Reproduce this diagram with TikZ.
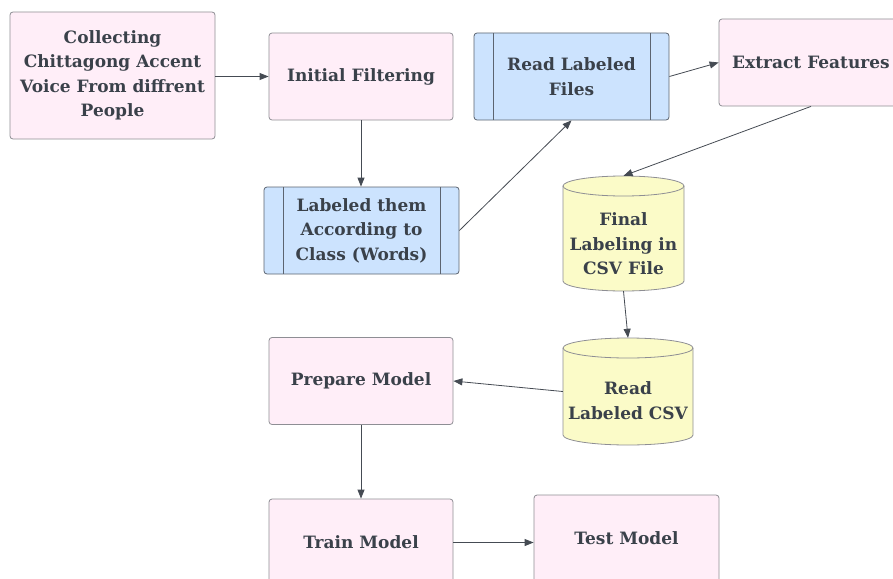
\documentclass[tikz,border=0pt]{standalone}
\usepackage{fontspec}
\setmainfont{DejaVu Serif}
\usetikzlibrary{arrows.meta}
\definecolor{pinkfill}{HTML}{FFEEF8}
\definecolor{bluefill}{HTML}{CCE3FE}
\definecolor{yellowfill}{HTML}{FBFBC8}
\definecolor{bdr}{HTML}{8E8E94}
\definecolor{bluebdr}{HTML}{5C6470}
\definecolor{txt}{HTML}{3A414A}
\definecolor{arr}{HTML}{454B53}
\tikzset{
  boxbase/.style={rectangle, rounded corners=3pt, line width=0.8pt, text=txt,
    font=\bfseries\fontsize{17}{24.5}\selectfont, align=center,
    minimum width=184pt, minimum height=87pt, inner sep=2pt},
  procbox/.style={boxbase, draw=bdr, fill=pinkfill},
  subbox/.style={boxbase, draw=bluebdr, fill=bluefill, minimum width=195pt,
    path picture={
      \draw[bluebdr, line width=0.8pt]
        ([xshift=19pt]path picture bounding box.north west) -- ([xshift=19pt]path picture bounding box.south west)
        ([xshift=-19pt]path picture bounding box.north east) -- ([xshift=-19pt]path picture bounding box.south east);}},
  cylframe/.style={rectangle, draw=none, inner sep=0pt},
  cyltext/.style={text=txt, font=\bfseries\fontsize{17}{24.5}\selectfont, align=center},
  cyl/.style={draw=bdr, fill=yellowfill, line width=0.8pt},
  conn/.style={draw=arr, line width=0.8pt, -{Triangle[length=9pt,width=7pt]}}
}
\begin{document}
\begin{tikzpicture}[x=1pt,y=-1pt]
\useasboundingbox (0,0) rectangle (893,578);
\clip (0,0) rectangle (893,578);

\node[procbox, minimum width=205pt, minimum height=127pt] (col) at (112.5,75.5)
  {Collecting\\Chittagong Accent\\Voice From diffrent\\People};
\node[procbox] (ifl) at (361,76.5) {Initial Filtering};
\node[subbox] (lab) at (361.5,230.5) {Labeled them\\According to\\Class (Words)};
\node[subbox] (rlf) at (571.5,76.5) {Read Labeled\\Files};
\node[procbox] (ef) at (811,62.5) {Extract Features};

% cylinder: Final Labeling
\node[cylframe, minimum width=121pt, minimum height=115pt] (fl) at (623.5,233.5) {};
\draw[cyl] (563,186) -- (563,281) arc[start angle=180, end angle=0, x radius=60.5, y radius=10]
  -- (684,186) arc[start angle=0, end angle=-180, x radius=60.5, y radius=10] -- cycle;
\draw[cyl, fill=none] (563,186) arc[start angle=180, end angle=0, x radius=60.5, y radius=10];
\node[cyltext] (fltxt) at (623.5,244) {Final\\Labeling in\\CSV File};

% cylinder: Read Labeled CSV
\node[cylframe, minimum width=130pt, minimum height=107pt] (rlc) at (628,391.5) {};
\draw[cyl] (563,348) -- (563,435) arc[start angle=180, end angle=0, x radius=65, y radius=10]
  -- (693,348) arc[start angle=0, end angle=-180, x radius=65, y radius=10] -- cycle;
\draw[cyl, fill=none] (563,348) arc[start angle=180, end angle=0, x radius=65, y radius=10];
\node[cyltext] (rlctxt) at (628,400.5) {Read\\Labeled CSV};

\node[procbox] (pm) at (361,381) {Prepare Model};
\node[procbox] (tr) at (361,542.5) {Train Model};
\node[procbox, minimum width=185pt] (te) at (626.5,538.5) {Test Model};

\draw[conn] (col.east |- ifl.west) -- (ifl.west);
\draw[conn] (ifl.south) -- (ifl.south |- lab.north);
\draw[conn] (lab.east) -- (rlf.south);
\draw[conn] (rlf.east) -- (ef.west);
\draw[conn] (ef.south) -- (fl.north);
\draw[conn] (fl.south) -- (rlc.north);
\draw[conn] (rlc.west) -- (pm.east);
\draw[conn] (pm.south) -- (tr.north);
\draw[conn] (tr.east) -- (tr.east -| te.west);
\end{tikzpicture}
\end{document}
